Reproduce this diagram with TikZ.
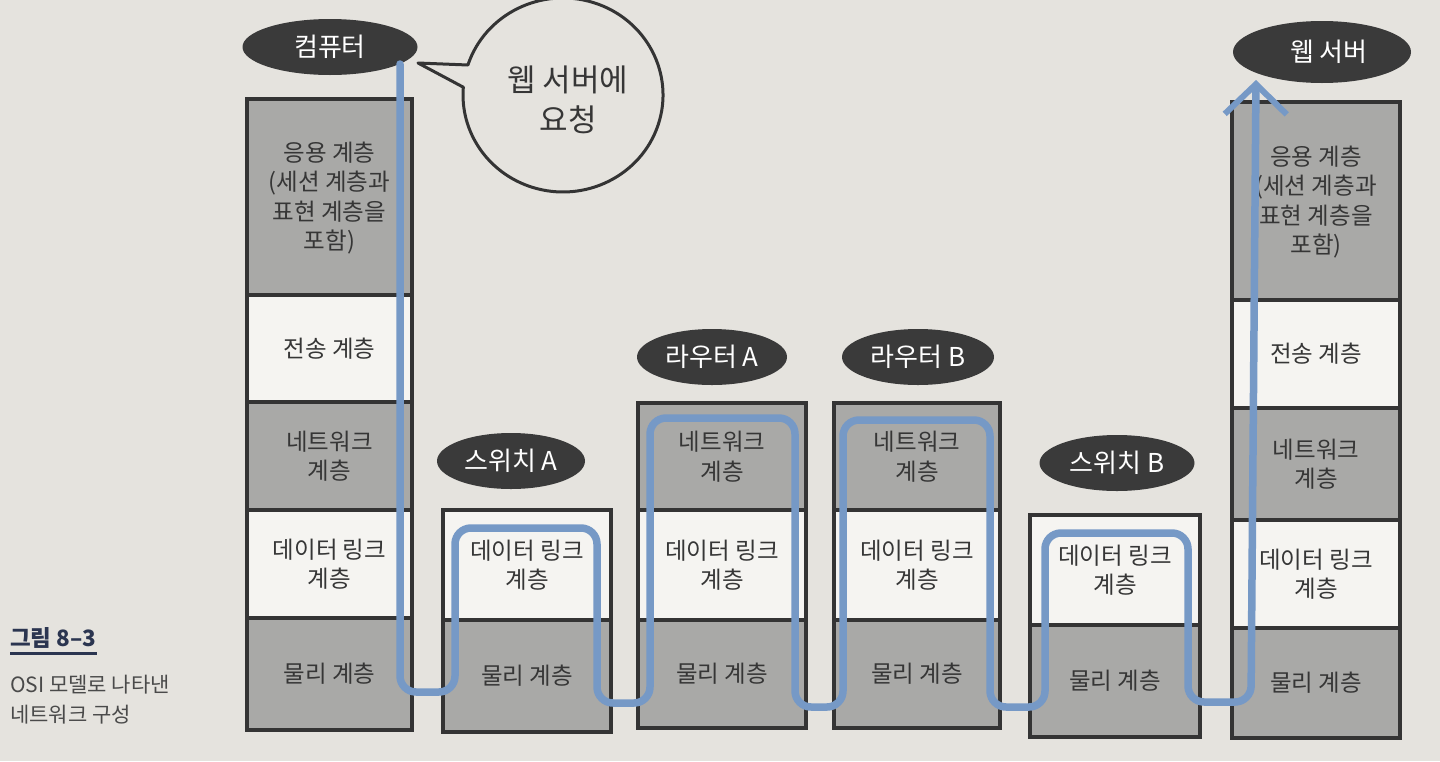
\documentclass[tikz,border=0pt]{standalone}
\usepackage{fontspec}
\setmainfont{Noto Sans CJK KR}
\usetikzlibrary{shapes.geometric,arrows.meta}
\definecolor{bg}{HTML}{E5E3DE}
\definecolor{laygray}{HTML}{A9A9A7}
\definecolor{laywhite}{HTML}{F5F4F1}
\definecolor{border}{HTML}{343434}
\definecolor{blob}{HTML}{3A3A3A}
\definecolor{flow}{RGB}{118,153,198}
\definecolor{navy}{HTML}{2B3550}
\definecolor{captxt}{HTML}{4A4A4A}
\definecolor{laytxt}{HTML}{363636}
\begin{document}
\begin{tikzpicture}[x=1pt,y=-1pt,
  lay/.style={draw=border, line width=3.5pt, inner sep=0pt, align=center,
    text=laytxt, font=\fontsize{23.5}{29.5}\selectfont},
  g/.style={lay, fill=laygray},
  w/.style={lay, fill=laywhite},
  blobnode/.style={ellipse, fill=blob, text=white, inner sep=0pt,
    font=\fontsize{26}{30}\selectfont},
  flowline/.style={draw=flow, line width=7.5pt, rounded corners=16pt, line cap=round, line join=round},
]
\useasboundingbox (0,0) rectangle (1440,761);
\fill[bg] (0,0) rectangle (1440,761);

% ---- Computer stack
\node[g, minimum width=165pt, minimum height=198pt] (capp) at (329.5,198) {응용 계층\\(세션 계층과\\표현 계층을\\포함)};
\node[w, minimum width=165pt, minimum height=107pt] (ctra) at (329.5,348.5) {전송 계층};
\node[g, minimum width=165pt, minimum height=108pt] (cnet) at (329.5,456) {네트워크\\계층};
\node[w, minimum width=165pt, minimum height=108pt] (cdl) at (329.5,564) {데이터 링크\\계층};
\node[g, minimum width=165pt, minimum height=112pt] (cph) at (329.5,674) {물리 계층};

% ---- Switch A
\node[w, minimum width=168pt, minimum height=110pt] (sadl) at (527,565) {데이터 링크\\계층};
\node[g, minimum width=168pt, minimum height=112pt] (saph) at (527,676) {물리 계층};

% ---- Router A
\node[g, minimum width=168pt, minimum height=107pt] (ranet) at (722,456.5) {네트워크\\계층};
\node[w, minimum width=168pt, minimum height=110pt] (radl) at (722,565) {데이터 링크\\계층};
\node[g, minimum width=168pt, minimum height=108pt] (raph) at (722,674) {물리 계층};

% ---- Router B
\node[g, minimum width=166pt, minimum height=107pt] (rbnet) at (917,456.5) {네트워크\\계층};
\node[w, minimum width=166pt, minimum height=110pt] (rbdl) at (917,565) {데이터 링크\\계층};
\node[g, minimum width=166pt, minimum height=108pt] (rbph) at (917,674) {물리 계층};

% ---- Switch B
\node[w, minimum width=170pt, minimum height=110pt] (sbdl) at (1115,570) {데이터 링크\\계층};
\node[g, minimum width=170pt, minimum height=112pt] (sbph) at (1115,681) {물리 계층};

% ---- Web server stack
\node[g, minimum width=168pt, minimum height=200pt] (wapp) at (1316,202) {응용 계층\\(세션 계층과\\표현 계층을\\포함)};
\node[w, minimum width=168pt, minimum height=108pt] (wtra) at (1316,354) {전송 계층};
\node[g, minimum width=168pt, minimum height=112pt] (wnet) at (1316,464) {네트워크\\계층};
\node[w, minimum width=168pt, minimum height=108pt] (wdl) at (1316,574) {데이터 링크\\계층};
\node[g, minimum width=168pt, minimum height=110pt] (wph) at (1316,683) {물리 계층};

% ---- Device labels
\node[blobnode, minimum width=175pt, minimum height=56pt] (comp) at (330,47) {컴퓨터};
\node[blobnode, minimum width=148pt, minimum height=56pt] (swa) at (511,461) {스위치 A};
\node[blobnode, minimum width=150pt, minimum height=56pt] (rta) at (712,357) {라우터 A};
\node[blobnode, minimum width=152pt, minimum height=56pt] (rtb) at (918,357) {라우터 B};
\node[blobnode, minimum width=155pt, minimum height=56pt] (swb) at (1117,463) {스위치 B};
\node[blobnode, minimum width=178pt, minimum height=62pt] (web) at (1322,52) {\hspace*{14pt}웹 서버};

% ---- Speech bubble
\coordinate (bubc) at (563,95);
\draw[draw=border, line width=3pt, fill=bg, line join=round]
  (467.9,65) arc[start angle=198, end angle=544.6, x radius=100, y radius=97]
  -- (418,63) -- cycle;
\node[text=laytxt, align=center, font=\fontsize{31}{40}\selectfont] (bubtxt) at (568,100) {웹 서버에\\요청};

% ---- Data flow
\coordinate (p0) at (400,64);
\coordinate (p1) at (400,692);
\coordinate (p2) at (455,692);
\coordinate (p3) at (455,528);
\coordinate (p4) at (597,528);
\coordinate (p5) at (597,703);
\coordinate (p6) at (650,703);
\coordinate (p7) at (650,418);
\coordinate (p8) at (795,418);
\coordinate (p9) at (795,707);
\coordinate (p10) at (843,707);
\coordinate (p11) at (843,420);
\coordinate (p12) at (990,420);
\coordinate (p13) at (990,707);
\coordinate (p14) at (1045,707);
\coordinate (p15) at (1045,533);
\coordinate (p16) at (1188,533);
\coordinate (p17) at (1188,702);
\coordinate (p18) at (1251,702);
\coordinate (p19) at (1256,80);
\draw[flowline, -{Straight Barb[length=30pt,width=62pt,line width=6pt]}]
  (p0) -- (p1) -- (p2) -- (p3) -- (p4) -- (p5) -- (p6) -- (p7) -- (p8) -- (p9)
  -- (p10) -- (p11) -- (p12) -- (p13) -- (p14) -- (p15) -- (p16) -- (p17) -- (p18) -- (p19);

% ---- Caption
\node[anchor=north west, inner sep=0pt, text=navy, font=\bfseries\fontsize{22.5}{26}\selectfont] (capt) at (10,627) {그림 8–3};
\draw[navy, line width=3pt] ([yshift=-5pt]capt.south west) -- ([yshift=-5pt]capt.south east);
\node[anchor=north west, inner sep=0pt, text=captxt, align=left, font=\fontsize{21}{29.5}\selectfont] (capd) at (10,675) {OSI 모델로 나타낸\\네트워크 구성};
\end{tikzpicture}
\end{document}
